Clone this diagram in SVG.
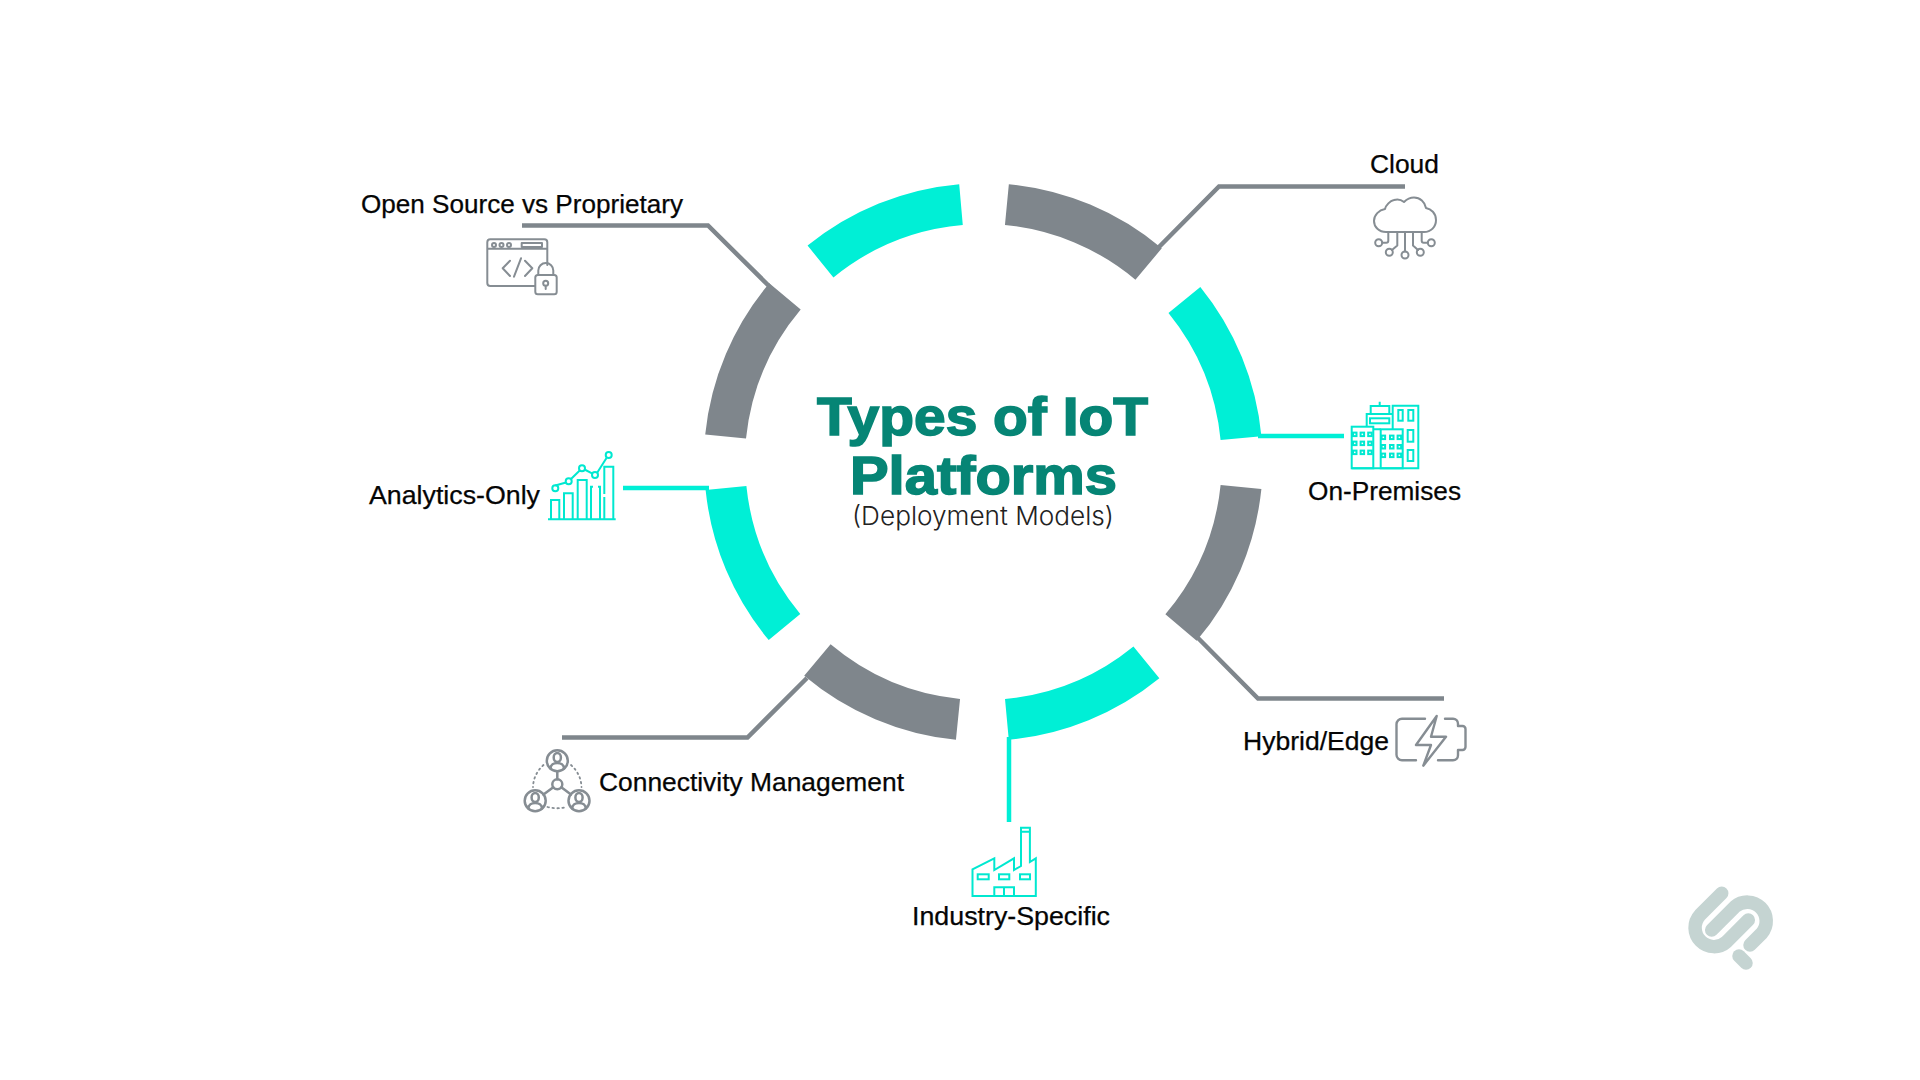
<svg xmlns="http://www.w3.org/2000/svg" width="1920" height="1080" viewBox="0 0 1920 1080">
<style>
text{font-family:"Liberation Sans",Arial,sans-serif;fill:#050505}
.lb{font-size:26px;stroke:#050505;stroke-width:.25px}
.t{font-size:54px;font-weight:700;fill:#068575;stroke:#068575;stroke-width:1.6px;text-anchor:start}
.sub{font-family:Inter,"Liberation Sans",sans-serif;font-size:26px;font-weight:300;fill:#222}
.seg{fill:none;stroke-width:41}
.g{stroke:#7f868c}.c{stroke:#00efd6}
.cn{fill:none;stroke-width:4.5;stroke-linejoin:miter}
.ig{fill:none;stroke:#868d93;stroke-width:2;stroke-linejoin:round;stroke-linecap:round}
.ic{fill:none;stroke:#00e8d0;stroke-width:2;stroke-linejoin:miter}
.dot{stroke-dasharray:1.500 3.500}
.logo{fill:none;stroke:#c5d4d2;stroke-width:13.500;stroke-linecap:round}
</style>
<g id="ring">
<path class="seg c" d="M961 204.600A258.500 258.500 0 0 0 820.500 261.500"/>
<path class="seg g" d="M1006.900 204.600A258.500 258.500 0 0 1 1148.600 264"/>
<path class="seg c" d="M1184.400 300A258.500 258.500 0 0 1 1241 438.100"/>
<path class="seg g" d="M1241 487A258.500 258.500 0 0 1 1181 627.600"/>
<path class="seg c" d="M1146.400 662.400A258.500 258.500 0 0 1 1006.900 719.400"/>
<path class="seg g" d="M958 719.400A258.500 258.500 0 0 1 817.400 660"/>
<path class="seg c" d="M784.500 627A258.500 258.500 0 0 1 726 488"/>
<path class="seg g" d="M725.600 436.500A258.500 258.500 0 0 1 785 296.400"/>
</g>
<g id="connectors">
<polyline class="cn g" points="522,225.500 708,225.500 769,286"/>
<polyline class="cn c" points="623,488 709,488"/>
<polyline class="cn g" points="1405,186.500 1219,186.500 1158,248"/>
<polyline class="cn c" points="1258,436 1344,436"/>
<polyline class="cn g" points="1198,638 1258,698.500 1444,698.500"/>
<polyline class="cn g" points="562,737.500 747.500,737.500 807,678"/>
<polyline class="cn c" points="1009,737 1009,822"/>
</g>
<g id="title">
<text class="t" x="817" y="435" textLength="331" lengthAdjust="spacingAndGlyphs">Types of IoT</text>
<text class="t" x="850" y="494" textLength="267" lengthAdjust="spacingAndGlyphs">Platforms</text>
<text class="sub" x="852" y="525" textLength="262" lengthAdjust="spacingAndGlyphs">(Deployment Models)</text>
</g>
<g id="node-open-source">
<text class="lb" x="361" y="213" textLength="322" lengthAdjust="spacingAndGlyphs">Open Source vs Proprietary</text>
<path class="ig" d="M535 286H490.300a3 3 0 0 1-3-3V242.300a3 3 0 0 1 3-3H544.300a3 3 0 0 1 3 3V265M487.300 248.700H547.300"/>
<circle class="ig" cx="494" cy="245" r="2"/><circle class="ig" cx="501.500" cy="245" r="2"/><circle class="ig" cx="509" cy="245" r="2"/>
<rect class="ig" x="521.700" y="243" width="20.300" height="4"/>
<path class="ig" d="M510 260.700L502.700 268.300L510 276M521 258.300L514 276.700M525 260.700L532.300 268.300L525 276"/>
<rect class="ig" x="535.300" y="275" width="21.400" height="19.300" rx="2.500"/>
<path class="ig" d="M538.300 275V270.500a7.500 7.500 0 0 1 15 0V275"/>
<circle class="ig" cx="545.700" cy="283.300" r="2.500"/><path class="ig" d="M545.700 285.800V289"/>
</g>
<g id="node-analytics">
<text class="lb" x="369" y="504" textLength="171" lengthAdjust="spacingAndGlyphs">Analytics-Only</text>
<path class="ic" d="M548 519.300H615.700M551 519V500H559.300V519M564 519V493.300H572.700V519M577.700 519V480H586.700V519M591 519V486.700H593M598 486.700H600V519M604.300 494V466.700H613.300V519M604.300 497V519M555.300 485.500L566 482.500M571 479L579.700 470.500M584.500 469.500L592.500 473.700M597 473L606.500 458"/>
<g class="ic"><circle cx="555.300" cy="488.300" r="3"/><circle cx="568.700" cy="481.300" r="3"/><circle cx="582" cy="468.300" r="3"/><circle cx="595" cy="475" r="3"/><circle cx="608.700" cy="455" r="3"/></g>
</g>
<g id="node-cloud">
<text class="lb" x="1370" y="173" textLength="69" lengthAdjust="spacingAndGlyphs">Cloud</text>
<path class="ig" d="M1386 232H1424C1431 232 1436 227 1436 220C1436 213 1431 209 1426 208C1425 202 1420 197.500 1414 197.500C1409 197.500 1406 200 1404 202C1401 199.500 1397 199 1394 200C1390 201 1386 205 1385 209C1379 210 1374 215 1374 221C1374 227 1379 232 1386 232Z"/>
<path class="ig" d="M1388.300 232V240.700Q1388.300 242.700 1386.300 242.700H1382.200M1397.300 232V245.500L1392 250M1405 232V251.500M1413 232V245.500L1418 250M1421.700 232V240.700Q1421.700 242.700 1423.700 242.700H1427.800"/>
<circle class="ig" cx="1378.700" cy="242.700" r="3.500"/><circle class="ig" cx="1389.300" cy="252.300" r="3.500"/><circle class="ig" cx="1405" cy="255" r="3.500"/><circle class="ig" cx="1420.300" cy="252.300" r="3.500"/><circle class="ig" cx="1431.300" cy="242.700" r="3.500"/>
</g>
<g id="node-on-premises">
<text class="lb" x="1308" y="500" textLength="153" lengthAdjust="spacingAndGlyphs">On-Premises</text>
<rect class="ic" x="1351.700" y="426.700" width="21.600" height="41.600"/>
<path class="ic" d="M1366.700 426.700V414H1392.700M1373 429.300H1380.700M1370.700 414V406H1389.300V414M1379.700 406V401.700"/>
<rect class="ic" x="1370" y="418.300" width="19.300" height="5"/>
<path class="ic" d="M1392.700 429.300V405.700H1418.300V468.300H1351.700"/>
<rect class="ic" x="1380.700" y="429.300" width="22" height="39"/>
<rect class="ic" x="1398.300" y="410" width="4.400" height="10.700"/><rect class="ic" x="1408.300" y="410" width="5" height="10.700"/><rect class="ic" x="1407.700" y="430" width="5.600" height="11.700"/><rect class="ic" x="1407.700" y="450" width="5.600" height="11"/>
<g class="ic" stroke-width="1.500">
<rect x="1353" y="432.600" width="3.500" height="3.500"/><rect x="1360.600" y="432.600" width="3.500" height="3.500"/><rect x="1368.200" y="432.600" width="3.500" height="3.500"/>
<rect x="1353" y="441.600" width="3.500" height="3.500"/><rect x="1360.600" y="441.600" width="3.500" height="3.500"/><rect x="1368.200" y="441.600" width="3.500" height="3.500"/>
<rect x="1353" y="450.600" width="3.500" height="3.500"/><rect x="1360.600" y="450.600" width="3.500" height="3.500"/><rect x="1368.200" y="450.600" width="3.500" height="3.500"/>
<rect x="1381.600" y="435.600" width="3.500" height="3.500"/><rect x="1390" y="435.600" width="3.500" height="3.500"/><rect x="1397.600" y="435.600" width="3.500" height="3.500"/>
<rect x="1381.600" y="445" width="3.500" height="3.500"/><rect x="1390" y="445" width="3.500" height="3.500"/><rect x="1397.600" y="445" width="3.500" height="3.500"/>
<rect x="1381.600" y="453.600" width="3.500" height="3.500"/><rect x="1390" y="453.600" width="3.500" height="3.500"/><rect x="1397.600" y="453.600" width="3.500" height="3.500"/>
</g>
</g>
<g id="node-hybrid">
<text class="lb" x="1243" y="750" textLength="146" lengthAdjust="spacingAndGlyphs">Hybrid/Edge</text>
<path class="ig" style="stroke-width:2.400" d="M1425 718.700H1402a5.500 5.500 0 0 0-5.500 5.500V754.800a5.500 5.500 0 0 0 5.500 5.500H1416M1445 718.700H1453a5 5 0 0 1 5 5V726H1462.500a3 3 0 0 1 3 3V747a3 3 0 0 1-3 3H1458V755.300a5 5 0 0 1-5 5H1438"/>
<path class="ig" style="stroke-width:2.400" d="M1436.700 716L1416 745H1431L1423.300 765.700L1446 736.700H1431Z"/>
</g>
<g id="node-connectivity">
<text class="lb" x="599" y="791" textLength="305" lengthAdjust="spacingAndGlyphs">Connectivity Management</text>
<g class="ig" style="stroke-width:2.500">
<circle cx="557.300" cy="760.700" r="10.500"/><circle cx="535.200" cy="800.700" r="10.500"/><circle cx="579" cy="800.700" r="10.500"/><circle cx="557.300" cy="784.300" r="5"/>
<path d="M557.300 771.200V779.300M553.300 787.300L543.500 794.500M561.300 787.300L571 794.500"/>
<ellipse cx="557.300" cy="757.500" rx="3.600" ry="4.500"/><path d="M550.500 768.500C550.500 761 564 761 564 768.500"/>
<ellipse cx="535.200" cy="797.500" rx="3.600" ry="4.500"/><path d="M528.400 808.500C528.400 801 542 801 542 808.500"/>
<ellipse cx="579" cy="797.500" rx="3.600" ry="4.500"/><path d="M572.200 808.500C572.200 801 585.800 801 585.800 808.500"/>
<path class="dot" style="stroke-width:1.800" d="M571 765Q581 774 581.500 787M543.500 765Q533.500 774 533 787M547.500 807Q557 809.500 567 807"/>
</g>
</g>
<g id="node-industry">
<text class="lb" x="912" y="925" textLength="198" lengthAdjust="spacingAndGlyphs">Industry-Specific</text>
<path class="ic" d="M972.500 896V869.300L994.300 858.300V870L1014 858.300V870L1021 866V827.700H1029.900V862L1035.800 858.300V896ZM1021 831.700H1029.900"/>
<rect class="ic" x="977.700" y="874.300" width="11" height="5"/><rect class="ic" x="999" y="874.300" width="10.300" height="5"/><rect class="ic" x="1020" y="874.300" width="10" height="5"/>
<path class="ic" d="M994.300 896V887.300H1014V896M1004 887.300V896"/>
</g>
<g id="logo">
<path class="logo" d="M1721.700 893.300L1700 915A18.900 18.900 0 0 0 1726.700 941.700L1748.300 920"/>
<path class="logo" d="M1711.700 930L1735 906.700A18.900 18.900 0 0 1 1761.700 933.300L1750 945"/>
<path class="logo" stroke-width="12" d="M1739 956L1746 963"/>
</g>
</svg>
